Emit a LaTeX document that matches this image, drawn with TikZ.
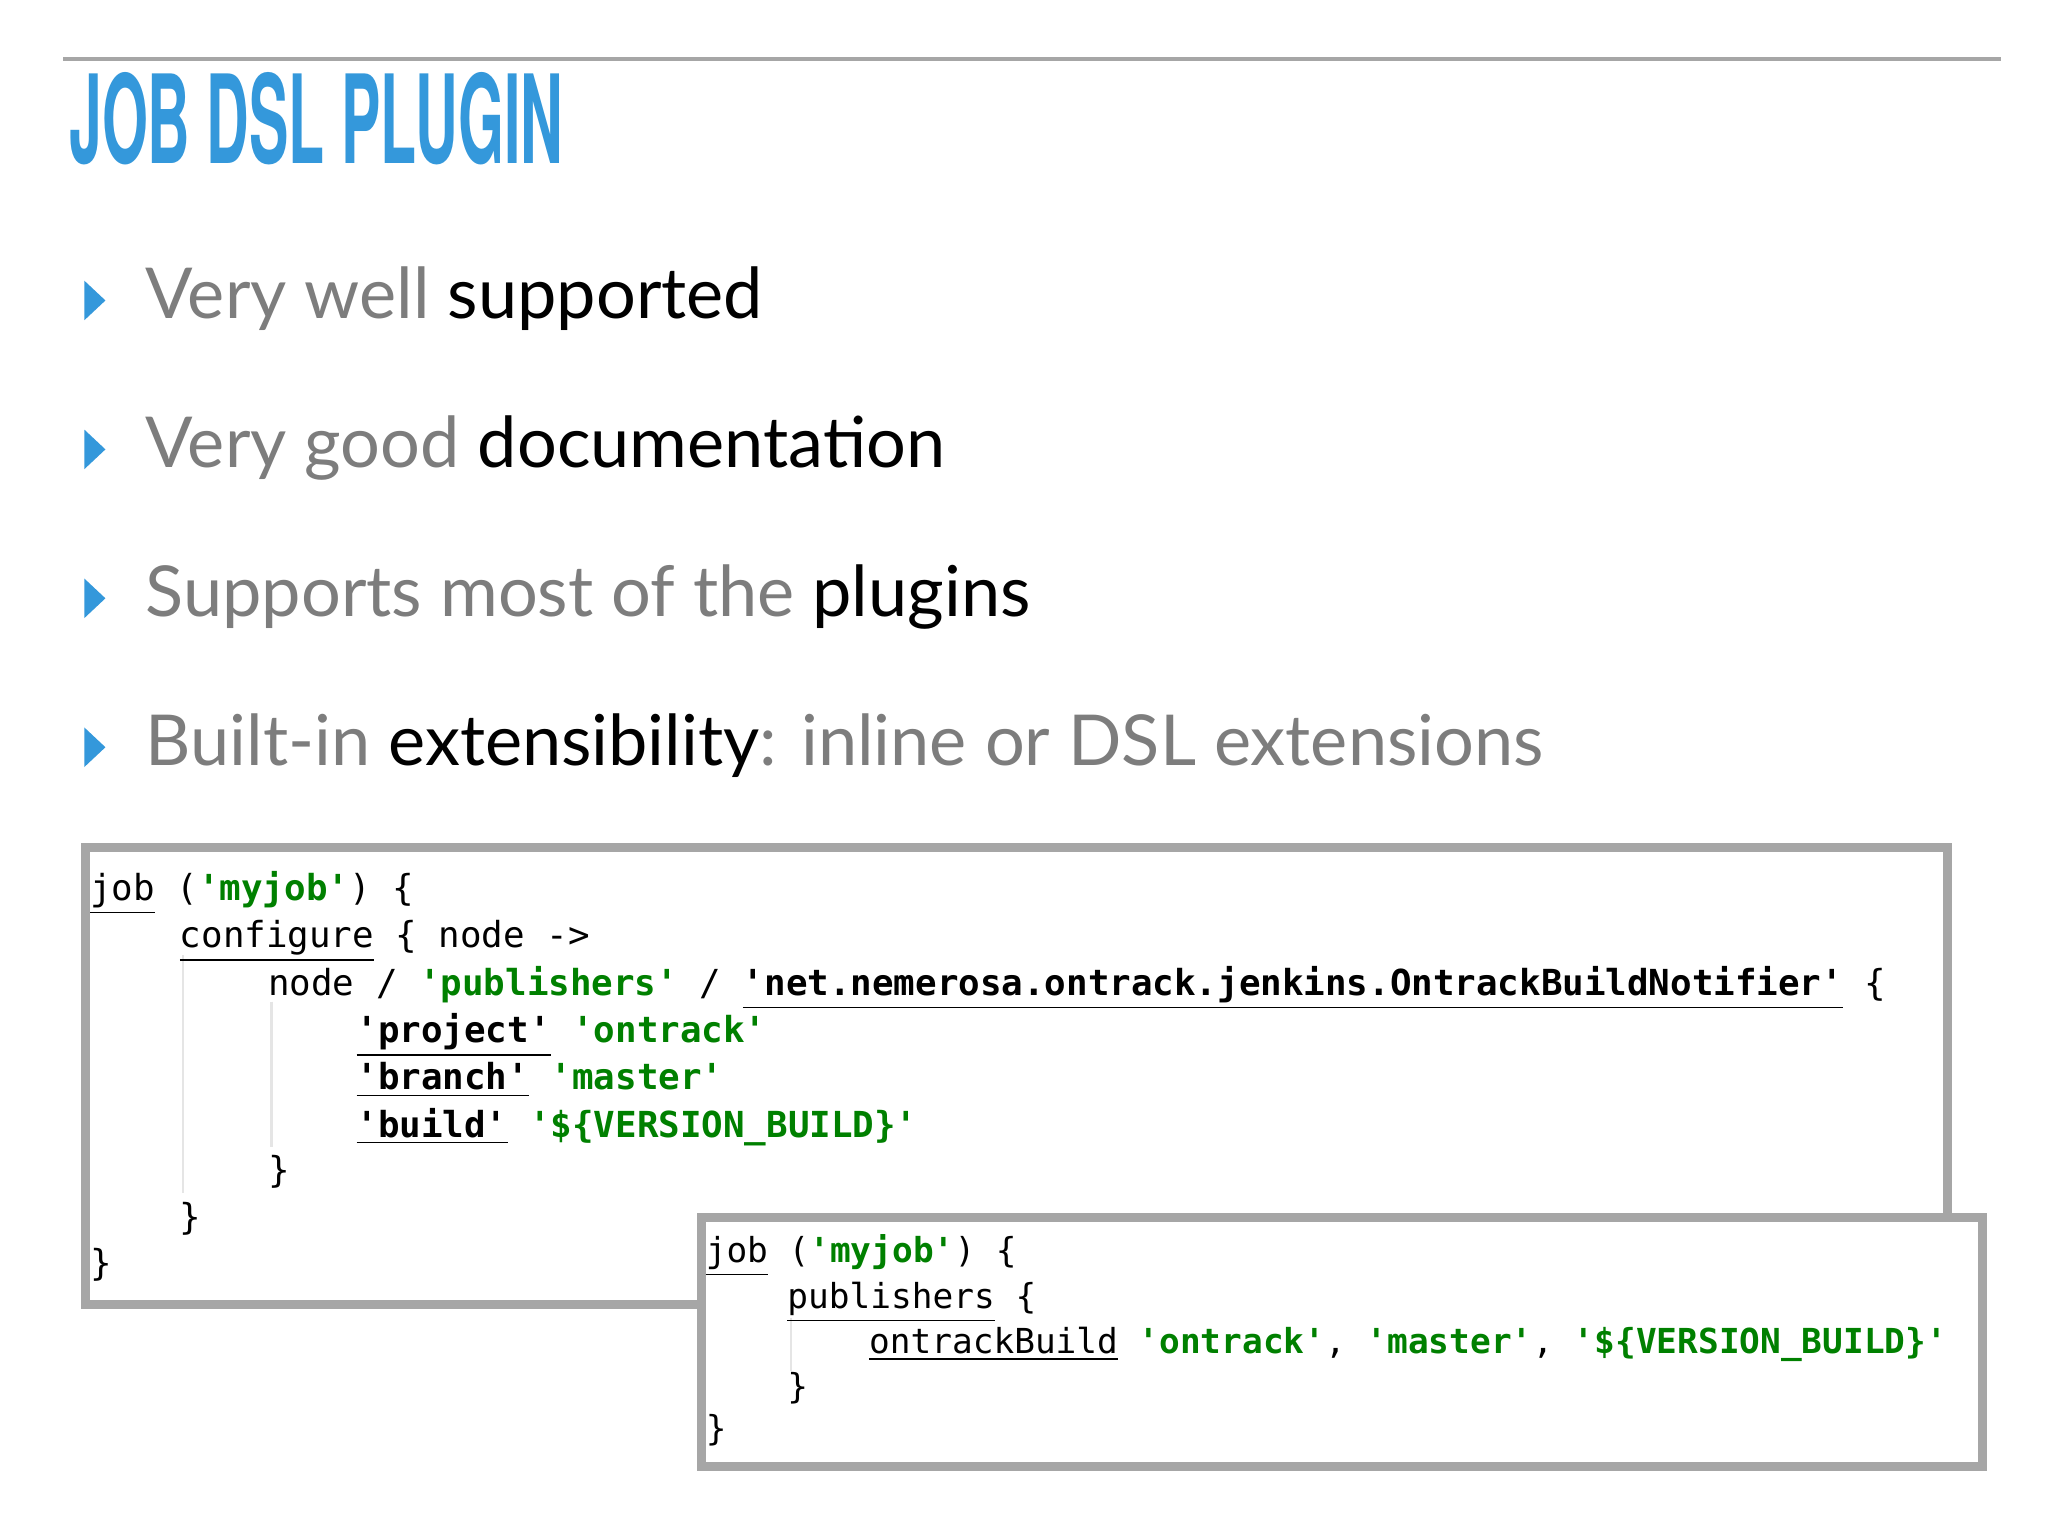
\documentclass[tikz,border=0pt]{standalone}
\usepackage{fontspec}
\setmainfont{Lato}
\newfontfamily\codefont{DejaVu Sans Mono}
\newfontfamily\titlefont{TeX Gyre Heros}
\definecolor{tblue}{RGB}{52,152,219}
\definecolor{tgray}{RGB}{125,125,125}
\definecolor{sgreen}{RGB}{0,128,0}
\newcommand{\str}[1]{{\bfseries\color{sgreen}#1}}
\newcommand{\ul}[1]{\underline{#1}}
\begin{document}
\begin{tikzpicture}[x=0.01318cm,y=-0.01318cm,
  bul/.style={anchor=base west,font=\fontsize{20}{24}\selectfont,text=tgray,inner sep=0},
  code/.style={anchor=base west,font=\codefont\fontsize{10.2}{12}\selectfont,inner sep=0},
  codeb/.style={code,font=\codefont\fontsize{9.8}{12}\selectfont},
  box/.style={draw=gray!70,line width=2.5pt,fill=white},
  guide/.style={draw=gray!20,line width=0.6pt}]
\useasboundingbox (0,0) rectangle (1554,1166);
\fill[white] (0,0) rectangle (1554,1166);
\draw[gray!70,line width=1.2pt] (48,45) coordinate (l1) -- (1518,45) coordinate (l2);
\node[anchor=base west,inner sep=0,text=tblue] (title) at (52,124)
  {\scalebox{0.48}[1]{\titlefont\bfseries\fontsize{35}{40}\selectfont JOB DSL PLUGIN}};
\foreach \y/\n in {228/a,341/b,454/c,567/d}
  \fill[tblue] (64,\y-15) -- (80,\y) -- (64,\y+15) -- cycle;
\node[bul] (b1) at (110,242) {Very well \textcolor{black}{supported}};
\node[bul] (b2) at (110,355) {Very good \textcolor{black}{documentation}};
\node[bul] (b3) at (110,468) {Supports most of the \textcolor{black}{plugins}};
\node[bul] (b4) at (110,581) {Built-in \textcolor{black}{extensibility}: inline or DSL extensions};
% box 1
\draw[box] (65,643) rectangle (1478,990);
\draw[guide] (139,725) -- (139,905);
\draw[guide] (206,760) -- (206,870);
\node[code] (c1) at (68,683) {\ul{job} (\str{'myjob'}) \{};
\node[code] (c2) at (136,719) {\ul{configure} \{ node ->};
\node[code] (c3) at (203,755) {node / \str{'publishers'} / \ul{\textbf{'net.nemerosa.ontrack.jenkins.OntrackBuildNotifier'}} \{};
\node[code] (c4) at (270,791) {\ul{\textbf{'project'}} \str{'ontrack'}};
\node[code] (c5) at (270,827) {\ul{\textbf{'branch'}} \str{'master'}};
\node[code] (c6) at (270,863) {\ul{\textbf{'build'}} \str{'\$\{VERSION\_BUILD\}'}};
\node[code] (c7) at (203,897) {\}};
\node[code] (c8) at (136,933) {\}};
\node[code] (c9) at (68,968) {\}};
% box 2
\draw[box] (532,924) rectangle (1504,1113);
\draw[guide] (600,1000) -- (600,1040);
\node[codeb] (d1) at (535,958) {\ul{job} (\str{'myjob'}) \{};
\node[codeb] (d2) at (597,993) {\ul{publishers} \{};
\node[codeb] (d3) at (659,1027) {\ul{ontrackBuild} \str{'ontrack'}, \str{'master'}, \str{'\$\{VERSION\_BUILD\}'}};
\node[codeb] (d4) at (597,1061) {\}};
\node[codeb] (d5) at (535,1093) {\}};
\end{tikzpicture}
\end{document}
